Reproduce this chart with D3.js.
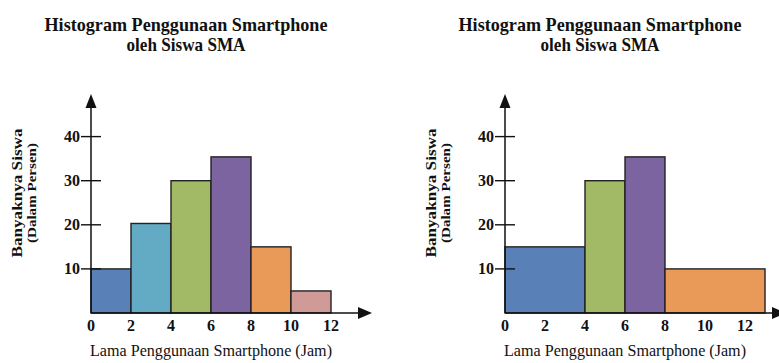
<!DOCTYPE html>
<html>
<head>
<meta charset="utf-8">
<script src="https://cdn.jsdelivr.net/npm/d3@7/dist/d3.min.js"></script>
<style>
  html, body { margin: 0; padding: 0; background: #fff; }
  svg { display: block; }
  text { font-family: "Times New Roman", "Liberation Serif", Times, serif; fill: #111; }
</style>
</head>
<body>
<svg id="chart" width="779" height="363"></svg>
<script>
// Histogram bins (jam) and percentages for both panels
const binsA = [[0, 2], [2, 4], [4, 6], [6, 8], [8, 10], [10, 12]];
const valuesA = [10, 20.3, 30, 35.4, 15, 5];
const colorsA = ["#5a80b8", "#63aac4", "#a2b966", "#7b64a0", "#e99a58", "#d09a96"];

const binsB = [[0, 4], [4, 6], [6, 8], [8, 13]];
const valuesB = [15, 30, 35.4, 10];
const colorsB = ["#5a80b8", "#a2b966", "#7b64a0", "#e99a58"];

const xTicks = [0, 2, 4, 6, 8, 10, 12];
const yTicks = [10, 20, 30, 40];

const titleLines = ["Histogram Penggunaan Smartphone", "oleh Siswa SMA"];
const xLabel = "Lama Penggunaan Smartphone (Jam)";
const yLabel = "Banyaknya Siswa";
const ySubLabel = "(Dalam Persen)";

const svg = d3.select("#chart");

function panel(ox, bins, values, colors) {
  const g = svg.append("g");
  const x = d3.scaleLinear().domain([0, 12]).range([ox, ox + 240]);
  const y = d3.scaleLinear().domain([0, 40]).range([313, 136.6]);

  // bars
  g.selectAll("rect.bar").data(bins).join("rect")
    .attr("class", "bar")
    .attr("x", d => x(d[0]))
    .attr("width", d => x(d[1]) - x(d[0]))
    .attr("y", (d, i) => y(values[i]))
    .attr("height", (d, i) => y(0) - y(values[i]))
    .attr("fill", (d, i) => colors[i])
    .attr("stroke", "#222")
    .attr("stroke-width", 1.4);

  // axes with arrowheads
  const x0 = x(0), y0 = y(0);
  g.append("line").attr("x1", x0).attr("x2", x0).attr("y1", y0).attr("y2", 106)
    .attr("stroke", "#111").attr("stroke-width", 1.5);
  g.append("path").attr("d", `M${x0},94 L${x0 - 5.5},108 L${x0 + 5.5},108 Z`).attr("fill", "#111");
  g.append("line").attr("x1", x0).attr("x2", x0 + 268).attr("y1", y0).attr("y2", y0)
    .attr("stroke", "#111").attr("stroke-width", 1.5);
  g.append("path").attr("d", `M${x0 + 281},${y0} L${x0 + 267},${y0 - 6} L${x0 + 267},${y0 + 6} Z`).attr("fill", "#111");

  // y ticks crossing the axis
  g.selectAll("line.yt").data(yTicks).join("line")
    .attr("class", "yt")
    .attr("x1", x0 - 10).attr("x2", x0 + 10)
    .attr("y1", d => y(d)).attr("y2", d => y(d))
    .attr("stroke", "#111").attr("stroke-width", 1.4);
  g.selectAll("text.yl").data(yTicks).join("text")
    .attr("class", "yl")
    .attr("x", x0 - 11).attr("y", d => y(d) + 5.5)
    .attr("text-anchor", "end")
    .attr("font-size", 16).attr("font-weight", "bold")
    .text(d => d);

  // x tick labels
  g.selectAll("text.xl").data(xTicks).join("text")
    .attr("class", "xl")
    .attr("x", d => x(d)).attr("y", 331)
    .attr("text-anchor", "middle")
    .attr("font-size", 16).attr("font-weight", "bold")
    .text(d => d);

  // axis titles
  g.append("text")
    .attr("x", x0 + 120).attr("y", 356)
    .attr("text-anchor", "middle").attr("font-size", 16)
    .attr("textLength", 242).attr("lengthAdjust", "spacingAndGlyphs")
    .text(xLabel);
  g.append("text")
    .attr("transform", `translate(${x0 - 69},193) rotate(-90)`)
    .attr("text-anchor", "middle").attr("font-size", 15).attr("font-weight", "bold")
    .attr("textLength", 129).attr("lengthAdjust", "spacingAndGlyphs")
    .text(yLabel);
  g.append("text")
    .attr("transform", `translate(${x0 - 55},193) rotate(-90)`)
    .attr("text-anchor", "middle").attr("font-size", 12).attr("font-weight", "bold")
    .attr("textLength", 100).attr("lengthAdjust", "spacingAndGlyphs")
    .text(ySubLabel);

  // chart title
  g.append("text")
    .attr("x", x0 + 95).attr("y", 31)
    .attr("text-anchor", "middle").attr("font-size", 19).attr("font-weight", "bold")
    .attr("textLength", 283).attr("lengthAdjust", "spacingAndGlyphs")
    .text(titleLines[0]);
  g.append("text")
    .attr("x", x0 + 95).attr("y", 51)
    .attr("text-anchor", "middle").attr("font-size", 19).attr("font-weight", "bold")
    .attr("textLength", 119).attr("lengthAdjust", "spacingAndGlyphs")
    .text(titleLines[1]);
}

panel(91, binsA, valuesA, colorsA);
panel(505, binsB, valuesB, colorsB);
</script>
</body>
</html>
